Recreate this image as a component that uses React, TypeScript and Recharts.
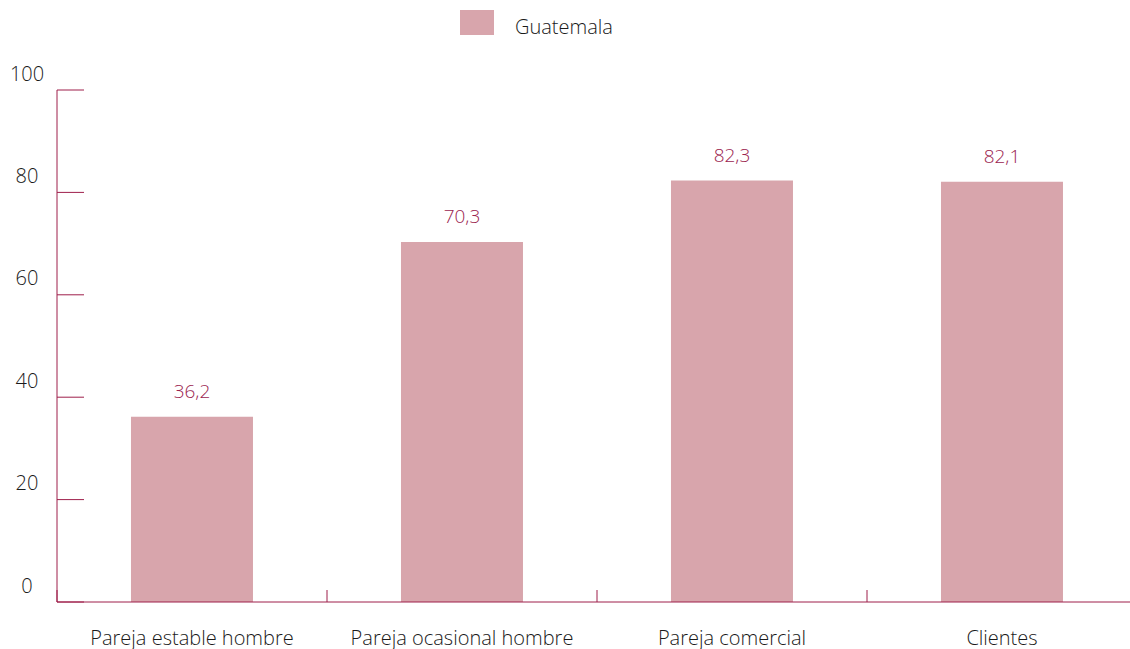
import { BarChart, Bar, XAxis, YAxis, LabelList, Legend } from 'recharts'

const categories = ['Pareja estable hombre', 'Pareja ocasional hombre', 'Pareja comercial', 'Clientes']
const guatemala = [36.2, 70.3, 82.3, 82.1]
const yTicks = [0, 20, 40, 60, 80, 100]
const seriesName = 'Guatemala'

const data = categories.map((c, i) => ({ category: c, value: guatemala[i] }))

const AXIS = '#9e1f4b'
const BAR = '#d8a5ac'
const FONT = '"Open Sans", sans-serif'
const PLOT_LEFT = 57
const PLOT_WIDTH = 1080
const HALF_BAND = PLOT_WIDTH / categories.length / 2

function XTick(props: any) {
  const { x, y, payload } = props
  return (
    <g>
      <line x1={x - HALF_BAND} x2={x - HALF_BAND} y1={y - 12} y2={y} stroke={AXIS} />
      <text x={x} y={y + 35} textAnchor="middle" dominantBaseline="central" fontSize={20} fontWeight={300} fill="#1a1a1a" fontFamily={FONT}>
        {payload.value}
      </text>
    </g>
  )
}

function YTick(props: any) {
  const { x, y, payload } = props
  return (
    <g>
      <line x1={x} x2={x + 27} y1={y} y2={y} stroke={AXIS} />
      <text x={27} y={y - 17} textAnchor="middle" dominantBaseline="central" fontSize={20} fontWeight={300} fill="#1a1a1a" fontFamily={FONT}>
        {payload.value}
      </text>
    </g>
  )
}

function LegendBox() {
  return (
    <div style={{ height: 50, position: 'relative', fontFamily: FONT, fontSize: 20, fontWeight: 300, color: '#1a1a1a' }}>
      <div style={{ position: 'absolute', left: 460, top: 10, width: 34, height: 25, background: BAR }} />
      <div style={{ position: 'absolute', left: 515, top: 13, lineHeight: '28px' }}>{seriesName}</div>
    </div>
  )
}

export default function App() {
  return (
    <div style={{ position: 'absolute', left: 0, top: 0, width: 1130, height: 649, overflow: 'hidden' }}>
      <BarChart
        width={PLOT_LEFT + PLOT_WIDTH}
        height={649}
        data={data}
        margin={{ top: 40, right: 0, left: 0, bottom: 0 }}
        barCategoryGap="27.4%"
      >
        <Legend verticalAlign="top" content={<LegendBox />} wrapperStyle={{ left: 0, top: 0, width: 1130, height: 50 }} />
        <XAxis
          dataKey="category"
          height={47}
          stroke={AXIS}
          tickLine={false}
          tickSize={0}
          tickMargin={0}
          interval={0}
          tick={<XTick />}
        />
        <YAxis
          domain={[0, 100]}
          ticks={yTicks}
          width={PLOT_LEFT}
          stroke={AXIS}
          tickLine={false}
          tickSize={0}
          tickMargin={0}
          tick={<YTick />}
        />
        <Bar dataKey="value" name={seriesName} fill={BAR} isAnimationActive={false}>
          <LabelList
            dataKey="value"
            position="top"
            offset={19}
            formatter={(v: any) => String(v).replace('.', ',')}
            style={{ fill: '#9b2450', fontSize: 19, fontWeight: 300, fontFamily: FONT }}
          />
        </Bar>
      </BarChart>
    </div>
  )
}
